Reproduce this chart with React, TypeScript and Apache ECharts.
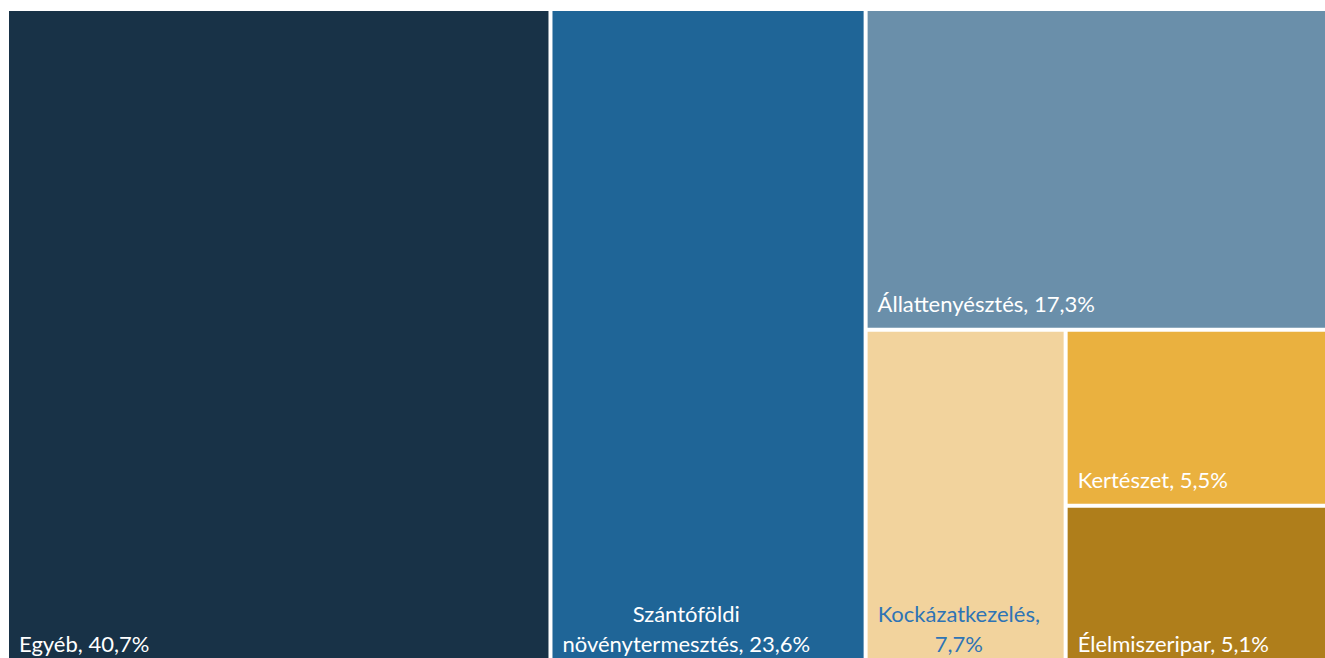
import { useEffect, useRef } from "react";
import * as echarts from "echarts";

const categories = [
  "Egyéb",
  "Szántóföldi növénytermesztés",
  "Állattenyésztés",
  "Kockázatkezelés",
  "Kertészet",
  "Élelmiszeripar",
];
const shares = [40.7, 23.6, 17.3, 7.7, 5.5, 5.1];
const colors = ["#183247", "#1F6597", "#6A8FAA", "#F2D39D", "#EAB13F", "#AF7E1B"];
const labelColors = ["#FFFFFF", "#FFFFFF", "#FFFFFF", "#2E74B5", "#FFFFFF", "#FFFFFF"];
// index of the word after which the label breaks onto a new line (-1: no break)
const wrapAfterWord = [-1, 0, -1, 0, -1, -1];

const FONT = "Lato";
const FONT_SIZE = 22;

const fmtShare = (v: number) => v.toFixed(1).replace(".", ",") + "%";

const labelLines = (i: number): string[] => {
  const words = (categories[i] + ", " + fmtShare(shares[i])).split(" ");
  const w = wrapAfterWord[i];
  if (w < 0) return [words.join(" ")];
  return [words.slice(0, w + 1).join(" "), words.slice(w + 1).join(" ")];
};

const measure = (s: string): number => {
  const ctx = document.createElement("canvas").getContext("2d");
  if (!ctx) return s.length * FONT_SIZE * 0.5;
  ctx.font = `${FONT_SIZE}px ${FONT}`;
  return ctx.measureText(s).width;
};

export default function App() {
  const ref = useRef<HTMLDivElement>(null);

  useEffect(() => {
    if (!ref.current) return;
    document.body.style.margin = "0";
    document.documentElement.style.overflow = "hidden";
    const chart = echarts.init(ref.current, undefined, { renderer: "svg" });

    const PAD_X = 10;
    const PAD_Y = -9;

    const data = categories.map((name, i) => {
      const lines = labelLines(i);
      const multi = lines.length > 1;
      const maxW = Math.max(...lines.map(measure));
      return {
        name,
        value: shares[i],
        itemStyle: { color: colors[i] },
        label: multi
          ? { color: labelColors[i], align: "center", offset: [PAD_X + maxW / 2, PAD_Y] }
          : { color: labelColors[i], align: "left", offset: [PAD_X, PAD_Y] },
      };
    });

    chart.setOption({
      animation: false,
      tooltip: { show: false },
      series: [
        {
          type: "treemap",
          left: 9,
          top: 11,
          width: 1330,
          height: 656,
          roam: false,
          nodeClick: false,
          squareRatio: 0.001,
          sort: "desc",
          breadcrumb: { show: false },
          silent: true,
          levels: [
            { itemStyle: { gapWidth: 4, borderWidth: 0, borderColor: "#FFFFFF" } },
            { itemStyle: { borderWidth: 0, gapWidth: 0 } },
          ],
          label: {
            show: true,
            position: "insideBottomLeft",
            distance: 0,
            padding: 0,
            fontFamily: FONT,
            fontSize: FONT_SIZE,
            lineHeight: 30,
            overflow: "none",
            formatter: (p: any) => labelLines(categories.indexOf(p.name)).join("\n"),
          },
          upperLabel: { show: false },
          data,
        },
      ],
    });

    return () => chart.dispose();
  }, []);

  return <div ref={ref} style={{ width: 1325, height: 658 }} />;
}
